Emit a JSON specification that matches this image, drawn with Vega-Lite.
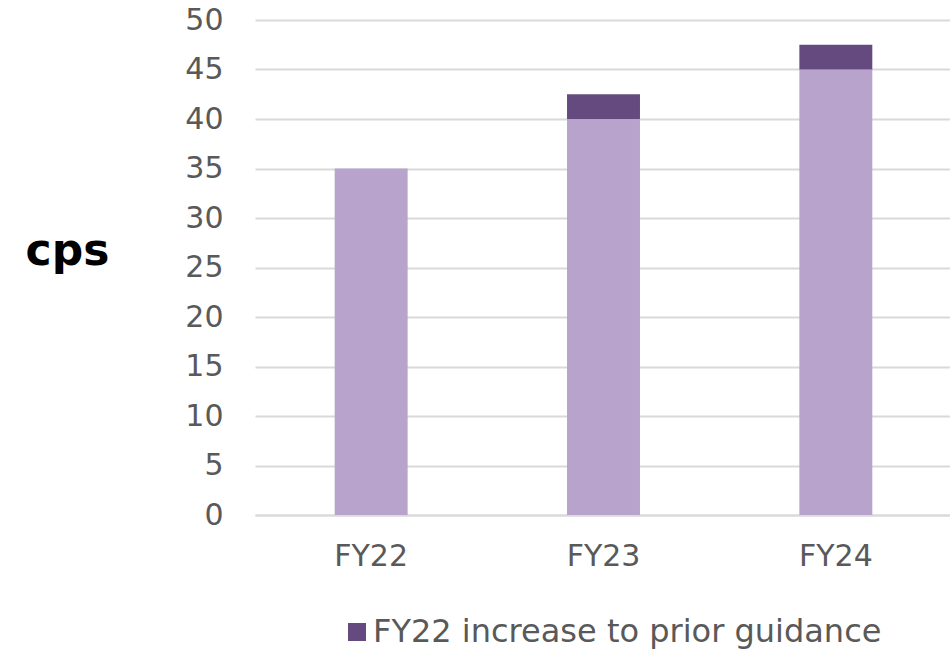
{
  "$schema": "https://vega.github.io/schema/vega-lite/v6.json",
  "autosize": "none",
  "width": 697,
  "height": 495,
  "padding": {"left": 255, "top": 20, "right": 0, "bottom": 138},
  "background": "white",
  "config": {
    "font": "DejaVu Sans",
    "view": {"stroke": null},
    "axis": {"labelFont": "DejaVu Sans", "labelColor": "#595959"}
  },
  "data": {
    "values": [
      {"year": "FY22", "series": "Base", "value": 35, "ord": 1},
      {"year": "FY23", "series": "Base", "value": 40, "ord": 1},
      {"year": "FY24", "series": "Base", "value": 45, "ord": 1},
      {"year": "FY22", "series": "FY22 increase to prior guidance", "value": 0, "ord": 2},
      {"year": "FY23", "series": "FY22 increase to prior guidance", "value": 2.5, "ord": 2},
      {"year": "FY24", "series": "FY22 increase to prior guidance", "value": 2.5, "ord": 2}
    ]
  },
  "mark": {"type": "bar"},
  "encoding": {
    "x": {
      "field": "year", "type": "nominal",
      "scale": {"paddingInner": 0.686, "paddingOuter": 0.343},
      "axis": {"title": null, "labelAngle": 0, "labelFontSize": 30, "labelPadding": 26, "ticks": false, "domain": true, "domainColor": "#d9d9d9", "domainWidth": 2}
    },
    "y": {
      "field": "value", "type": "quantitative", "stack": "zero",
      "scale": {"domain": [0, 50], "nice": false},
      "axis": {
        "title": "cps", "titleAngle": 0, "titleFontSize": 44, "titleFontWeight": "bold", "titleColor": "black",
        "titleX": -188, "titleY": 231, "titleAlign": "center", "titleBaseline": "middle",
        "values": [0,5,10,15,20,25,30,35,40,45,50],
        "labelFontSize": 30, "labelPadding": 32, "ticks": false, "domain": false,
        "gridColor": "#d9d9d9", "gridWidth": 2
      }
    },
    "color": {
      "field": "series", "type": "nominal",
      "scale": {"domain": ["Base", "FY22 increase to prior guidance"], "range": ["#b7a3cc", "#654a7f"]},
      "legend": {
        "values": ["FY22 increase to prior guidance"], "title": null,
        "orient": "none", "legendX": 86, "legendY": 596,
        "symbolType": "square", "symbolSize": 324, "symbolStrokeWidth": 0, "labelOffset": 0,
        "labelFontSize": 32, "labelColor": "#595959", "labelFont": "DejaVu Sans", "labelLimit": 800
      }
    },
    "order": {"field": "ord", "type": "quantitative"}
  }
}
